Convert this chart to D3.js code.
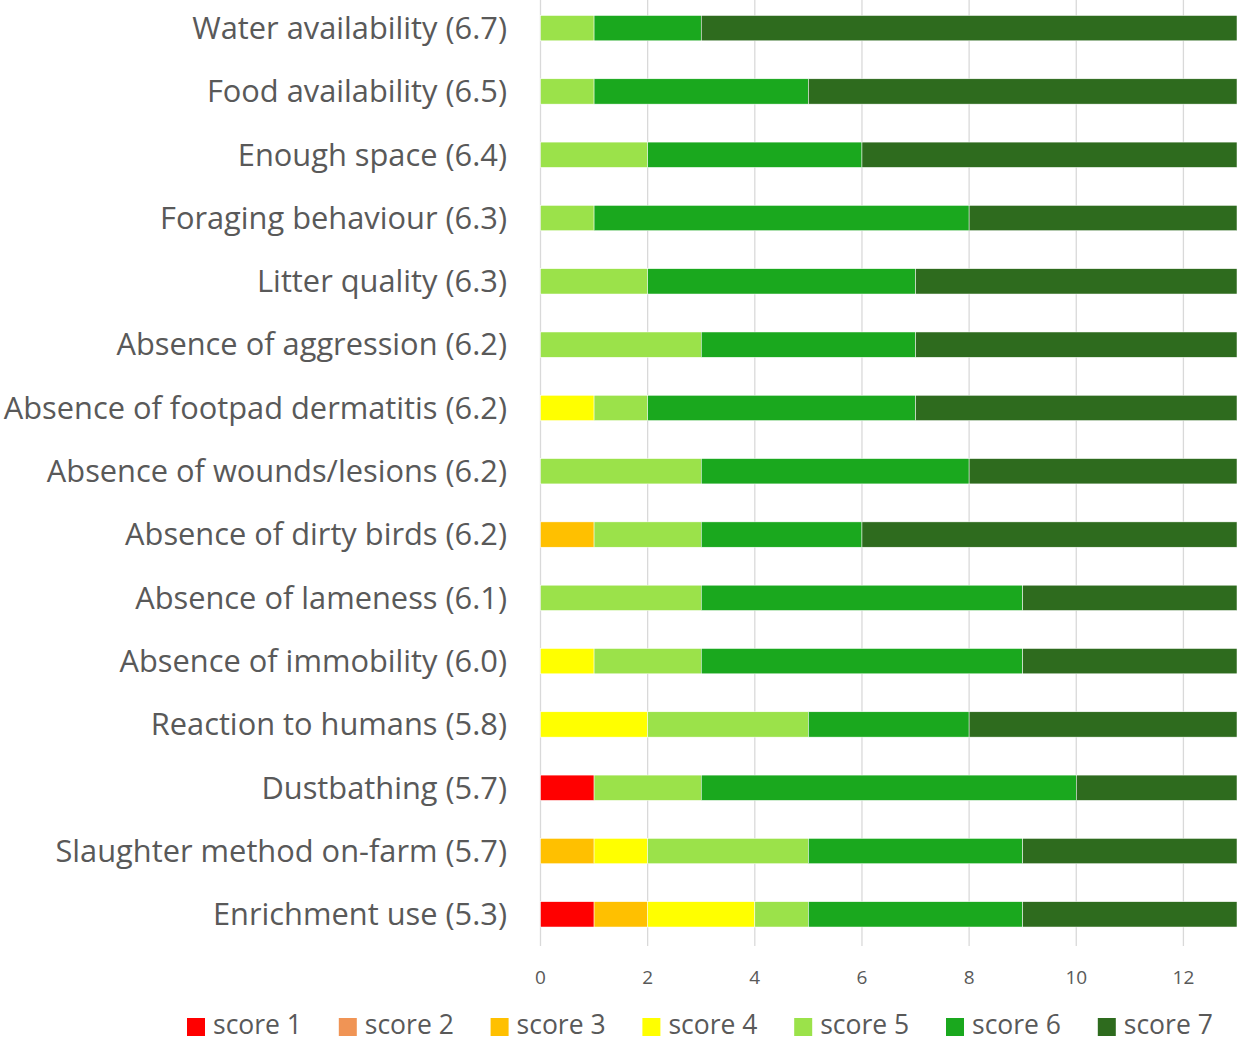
<!DOCTYPE html>
<html>
<head>
<meta charset="utf-8">
<script src="https://cdn.jsdelivr.net/npm/d3@7"></script>
<style>
  body { margin: 0; background: #fff; }
  text { font-family: "Open Sans", sans-serif; fill: #595959; }
</style>
</head>
<body>
<script>
/* ---------------------------------- Data ---------------------------------- */
const categories = [
  "Water availability (6.7)", "Food availability (6.5)", "Enough space (6.4)",
  "Foraging behaviour (6.3)", "Litter quality (6.3)", "Absence of aggression (6.2)",
  "Absence of footpad dermatitis (6.2)", "Absence of wounds/lesions (6.2)",
  "Absence of dirty birds (6.2)", "Absence of lameness (6.1)", "Absence of immobility (6.0)",
  "Reaction to humans (5.8)", "Dustbathing (5.7)", "Slaughter method on-farm (5.7)",
  "Enrichment use (5.3)"
];
const seriesNames = ["score 1", "score 2", "score 3", "score 4", "score 5", "score 6", "score 7"];
const score1 = [0, 0, 0, 0, 0, 0, 0, 0, 0, 0, 0, 0, 1, 0, 1];
const score2 = [0, 0, 0, 0, 0, 0, 0, 0, 0, 0, 0, 0, 0, 0, 0];
const score3 = [0, 0, 0, 0, 0, 0, 0, 0, 1, 0, 0, 0, 0, 1, 1];
const score4 = [0, 0, 0, 0, 0, 0, 1, 0, 0, 0, 1, 2, 0, 1, 2];
const score5 = [1, 1, 2, 1, 2, 3, 1, 3, 2, 3, 2, 3, 2, 3, 1];
const score6 = [2, 4, 4, 7, 5, 4, 5, 5, 3, 6, 6, 3, 7, 4, 4];
const score7 = [10, 8, 7, 5, 6, 6, 6, 5, 7, 4, 4, 5, 3, 4, 4];
const xTicks = [0, 2, 4, 6, 8, 10, 12];
const colors = ["#FF0000", "#F09455", "#FFC000", "#FFFF00", "#9BE24A", "#1AA81E", "#2E6B1E"];

/* --------------------------------- Layout --------------------------------- */
const width = 1239, height = 1042;
const plotLeft = 540.5, plotRight = 1237, plotTop = -3.5, plotBottom = 946;

const svg = d3.select("body").append("svg").attr("width", width).attr("height", height);

const table = categories.map((c, i) => ({
  name: c,
  "score 1": score1[i], "score 2": score2[i], "score 3": score3[i], "score 4": score4[i],
  "score 5": score5[i], "score 6": score6[i], "score 7": score7[i]
}));
const stacked = d3.stack().keys(seriesNames)(table);

const x = d3.scaleLinear().domain([0, 13]).range([plotLeft, plotRight]);
const y = d3.scaleBand().domain(categories).range([plotTop, plotBottom]).paddingInner(0.6).paddingOuter(0.3);
const color = d3.scaleOrdinal().domain(seriesNames).range(colors);

// gridlines
svg.append("g").selectAll("line").data(xTicks).enter().append("line")
  .attr("x1", d => x(d)).attr("x2", d => x(d))
  .attr("y1", plotTop).attr("y2", plotBottom)
  .attr("stroke", "#d9d9d9").attr("stroke-width", 1.3);

// bars
svg.append("g").selectAll("g").data(stacked).enter().append("g")
  .attr("fill", d => color(d.key))
  .selectAll("rect").data(d => d).enter().append("rect")
  .attr("x", d => x(d[0]))
  .attr("y", d => y(d.data.name))
  .attr("width", d => x(d[1]) - x(d[0]))
  .attr("height", y.bandwidth())
  .attr("stroke", "#fff").attr("stroke-width", 0.5);

// category labels
svg.append("g").selectAll("text").data(categories).enter().append("text")
  .attr("x", 507)
  .attr("y", d => y(d) + y.bandwidth() / 2)
  .attr("dy", "0.35em")
  .attr("text-anchor", "end")
  .attr("font-size", "30.8px")
  .text(d => d);

// x tick labels
svg.append("g").selectAll("text").data(xTicks).enter().append("text")
  .attr("x", d => x(d))
  .attr("y", 977)
  .attr("dy", "0.35em")
  .attr("text-anchor", "middle")
  .attr("font-size", "19px")
  .text(d => d);

// legend
const legend = svg.append("g").selectAll("g").data(seriesNames).enter().append("g")
  .attr("transform", (d, i) => `translate(${187 + i * 151.8},1018)`);
legend.append("rect").attr("width", 18).attr("height", 18).attr("fill", d => color(d));
legend.append("text").attr("x", 26).attr("y", 16)
  .attr("font-size", "26.5px").text(d => d);
</script>
</body>
</html>
